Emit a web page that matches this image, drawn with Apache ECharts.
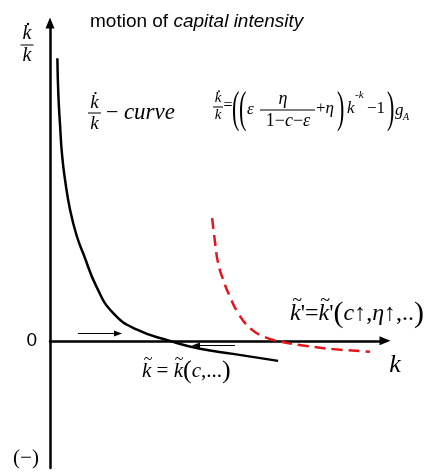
<!DOCTYPE html>
<html>
<head>
<meta charset="utf-8">
<script src="https://cdn.jsdelivr.net/npm/echarts@6/dist/echarts.min.js"></script>
<style>
  html, body { margin: 0; padding: 0; background: #fff; }
  #main { width: 433px; height: 476px; }
</style>
</head>
<body>
<div id="main"></div>
<script>
// k values and growth rate of k (k-dot / k)
var kBlack = [0.22, 0.25, 0.30, 0.36, 0.45, 0.60, 0.79, 1.01, 1.39, 1.88, 2.60, 3.58, 4.48, 5.46, 6.81];
var gBlack = [8.89, 7.74, 6.79, 5.85, 5.06, 4.12, 3.33, 2.70, 1.70, 0.88, 0.35, 0.00, -0.25, -0.41, -0.63];
// shifted curve after c up, eta up
var kRed = [4.84, 4.93, 5.02, 5.17, 5.37, 5.62, 5.97, 6.37, 6.87, 7.66, 8.46, 9.55];
var gRed = [3.86, 3.07, 2.44, 1.92, 1.39, 0.87, 0.40, 0.14, -0.02, -0.16, -0.26, -0.34];

var SERIF = "'Liberation Serif', 'Times New Roman', serif";
var SANS = "'Liberation Sans', Arial, sans-serif";

function pairs(xs, ys) {
  return xs.map(function (x, i) { return [x, ys[i]]; });
}

function tx(x, y, text, size, style) {
  return {
    type: 'text', x: x, y: y, silent: true,
    style: Object.assign({
      text: text, fontSize: size, fontFamily: SERIF, fill: '#000',
      align: 'left', verticalAlign: 'middle'
    }, style || {})
  };
}

// tall thin bracket
function paren(x, y, ch, size) {
  var t = tx(x, y, ch, size);
  t.scaleX = 0.5;
  return t;
}

// k-dot over k
function kFrac(cx, barY, size, barW) {
  return [
    tx(cx, barY - 1, 'k', size, { fontStyle: 'italic', align: 'center', verticalAlign: 'bottom' }),
    { type: 'circle', silent: true, shape: { cx: cx + 1, cy: barY - size * 1.05, r: size * 0.06 }, style: { fill: '#000' } },
    { type: 'line', silent: true, shape: { x1: cx - barW / 2, y1: barY, x2: cx + barW / 2, y2: barY }, style: { stroke: '#000', lineWidth: 1 } },
    tx(cx, barY + 1, 'k', size, { fontStyle: 'italic', align: 'center', verticalAlign: 'top' })
  ];
}

function tilde(cx, cy, size) {
  return tx(cx, cy, '~', size, { align: 'center' });
}

function arrow(x1, x2, y) {
  var dir = x2 > x1 ? 1 : -1;
  return [
    { type: 'line', silent: true, shape: { x1: x1, y1: y, x2: x2 - dir * 5, y2: y }, style: { stroke: '#000', lineWidth: 1 } },
    { type: 'polygon', silent: true, shape: { points: [[x2, y], [x2 - dir * 8, y - 3], [x2 - dir * 8, y + 3]] }, style: { fill: '#000' } }
  ];
}

var graphics = [];
graphics = graphics.concat(kFrac(27, 45, 20, 13));
graphics.push(tx(90, 22, '{a|motion of }{b|capital intensity}', 19, {
  rich: {
    a: { fontFamily: SANS, fontSize: 19, fill: '#000' },
    b: { fontFamily: SANS, fontSize: 19, fontStyle: 'italic', fill: '#000' }
  }
}));
// k-dot/k - curve label
graphics = graphics.concat(kFrac(94.5, 113, 19, 13));
graphics.push(tx(106, 113, '{m|\u2212 }{c|curve}', 23, {
  rich: {
    m: { fontFamily: SERIF, fontSize: 22, fill: '#000' },
    c: { fontFamily: SERIF, fontSize: 23, fontStyle: 'italic', fill: '#000' }
  }
}));
// formula
graphics = graphics.concat(kFrac(218, 107, 15, 10));
graphics.push(tx(228, 106, '=', 16, { align: 'center' }));
graphics.push(paren(232, 110, '(', 44));
graphics.push(paren(239, 110, '(', 44));
graphics.push(tx(247, 110, '\u03b5', 17, { fontStyle: 'italic' }));
graphics.push(tx(283, 108, '\u03b7', 18, { fontStyle: 'italic', align: 'center', verticalAlign: 'bottom' }));
graphics.push({ type: 'line', silent: true, shape: { x1: 260, y1: 110, x2: 315, y2: 110 }, style: { stroke: '#000', lineWidth: 1 } });
graphics.push(tx(288, 112, '{r|1\u2212}{i|c}{r|\u2212}{i|\u03b5}', 18, {
  align: 'center', verticalAlign: 'top',
  rich: {
    r: { fontFamily: SERIF, fontSize: 18, fill: '#000' },
    i: { fontFamily: SERIF, fontSize: 18, fontStyle: 'italic', fill: '#000' }
  }
}));
graphics.push(tx(316, 109, '{r|+}{i|\u03b7}', 17, {
  rich: {
    r: { fontFamily: SERIF, fontSize: 17, fill: '#000' },
    i: { fontFamily: SERIF, fontSize: 17, fontStyle: 'italic', fill: '#000' }
  }
}));
graphics.push(paren(337, 110, ')', 44));
graphics.push(tx(347, 109, 'k', 17, { fontStyle: 'italic' }));
graphics.push(tx(355, 95, '-k', 11, { fontStyle: 'italic' }));
graphics.push(tx(367, 109, '\u22121', 17));
graphics.push(paren(387, 110, ')', 44));
graphics.push(tx(395, 111, 'g', 17, { fontStyle: 'italic' }));
graphics.push(tx(403, 117, 'A', 10, { fontStyle: 'italic' }));
// axis name k
graphics.push(tx(395, 365, 'k', 26, { fontStyle: 'italic', align: 'center' }));
// (-) at bottom left
graphics.push(tx(26, 458, '(\u2212)', 21, { align: 'center' }));
// steady state labels
graphics.push(tx(142, 371, '{i|k} {r|=} {i|k}{p|(}{i|c}{r|,...}{p|)}', 21, {
  rich: {
    i: { fontFamily: SERIF, fontSize: 21, fontStyle: 'italic', fill: '#000' },
    r: { fontFamily: SERIF, fontSize: 21, fill: '#000' },
    p: { fontFamily: SERIF, fontSize: 26, fill: '#000' }
  }
}));
graphics.push(tilde(148, 360, 16));
graphics.push(tilde(179, 360, 16));
graphics.push(tx(290, 314, "{i|k}{r|'=}{i|k}{r|'}{p|(}{i|c}{r|\u2191,}{i|\u03b7}{r|\u2191,..}{p|)}", 24, {
  rich: {
    i: { fontFamily: SERIF, fontSize: 24, fontStyle: 'italic', fill: '#000' },
    r: { fontFamily: SERIF, fontSize: 24, fill: '#000' },
    p: { fontFamily: SERIF, fontSize: 30, fill: '#000' }
  }
}));
graphics.push(tilde(297, 301, 18));
graphics.push(tilde(325, 301, 18));
// direction arrows on the k axis
graphics = graphics.concat(arrow(78, 122, 333.5));
graphics = graphics.concat(arrow(235, 192, 345.5));

var chart = echarts.init(document.getElementById('main'));
var axisLine = {
  show: true,
  symbol: ['none', 'triangle'],
  symbolSize: [9, 11],
  lineStyle: { color: '#000', width: 2.5 }
};
chart.setOption({
  animation: false,
  grid: { left: 50, right: 48, top: 23, bottom: 8 },
  xAxis: {
    type: 'value', min: 0, max: 10,
    axisLine: Object.assign({ onZero: true }, axisLine),
    axisTick: { show: false }, axisLabel: { show: false }, splitLine: { show: false }
  },
  yAxis: {
    type: 'value', min: -4, max: 10, interval: 1,
    axisLine: axisLine,
    axisTick: { show: false }, splitLine: { show: false },
    axisLabel: {
      margin: 13, fontFamily: SANS, fontSize: 19, color: '#000',
      formatter: function (v) { return v === 0 ? '0' : ''; }
    }
  },
  series: [
    {
      type: 'line', data: pairs(kBlack, gBlack), smooth: 0.5, showSymbol: false,
      lineStyle: { color: '#000', width: 2.5 }
    },
    {
      type: 'line', data: pairs(kRed, gRed), smooth: 0.5, showSymbol: false,
      lineStyle: { color: '#e8141b', width: 2.5, type: [11, 6] }
    }
  ],
  graphic: graphics
});
window.addEventListener('resize', function () { chart.resize(); });
</script>
</body>
</html>
